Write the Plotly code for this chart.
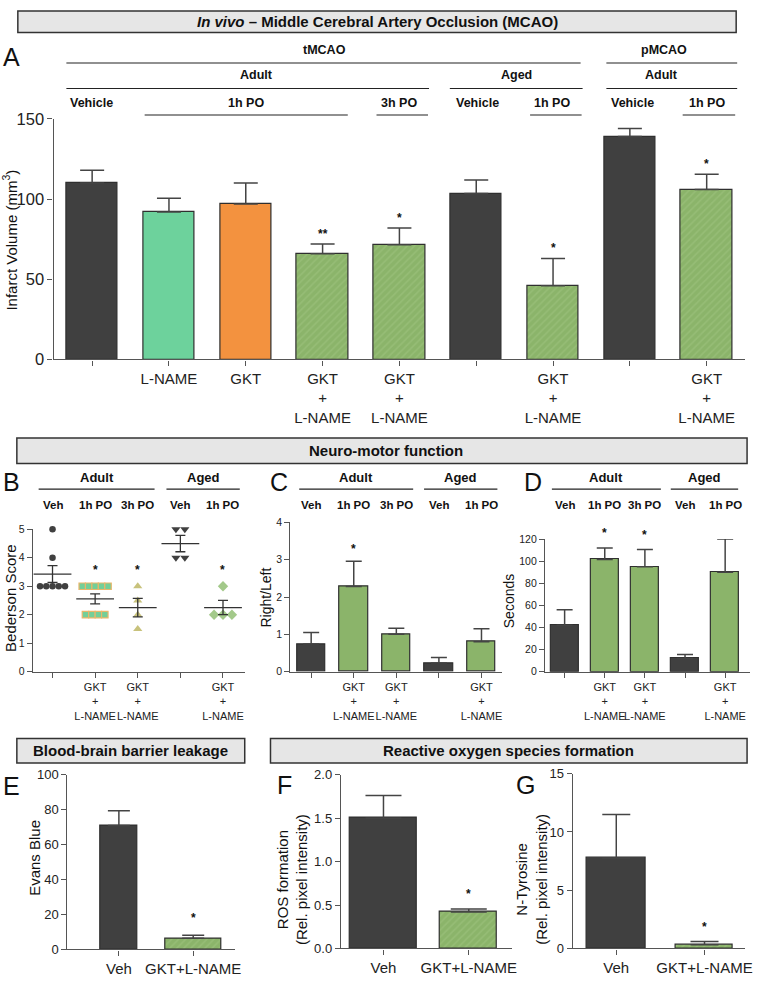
import numpy as np
import plotly.graph_objects as go
from collections import Counter

W, H = 762, 983
FONT = "Liberation Sans, Arial, Helvetica, sans-serif"

# ---------------- DATA ----------------
# Panel A: infarct volume (mm3)
a_labels = ["", "L-NAME", "GKT", "GKT<br>+<br>L-NAME", "GKT<br>+<br>L-NAME", "",
            "GKT<br>+<br>L-NAME", "", "GKT<br>+<br>L-NAME"]
a_values = [110, 92, 97, 66, 71.5, 103.5, 46, 139, 106]
a_errors = [8, 8.5, 13, 6, 10.5, 8.5, 17, 5, 9.5]
a_stars = ["", "", "", "**", "*", "", "*", "", "*"]
a_treat = ["veh", "lname", "gkt", "combo", "combo", "veh", "combo", "veh", "combo"]

# Panel B: Bederson score (individual animals)
bcd_labels = ["", "GKT<br>+<br>L-NAME", "GKT<br>+<br>L-NAME", "", "GKT<br>+<br>L-NAME"]
b_points = [
    [5, 4, 3, 3, 3, 3, 3],
    [3, 3, 3, 3, 3, 2, 2, 2, 2],
    [3, 2.5, 2, 1.5],
    [5, 5, 4, 4],
    [3, 2, 2, 2],
]
b_stars = ["", "*", "*", "", "*"]

# Panel C: Right/Left
c_values = [0.74, 2.28, 1.0, 0.23, 0.8]
c_errors = [0.31, 0.68, 0.16, 0.15, 0.35]
c_stars = ["", "*", "", "", ""]

# Panel D: Seconds
d_values = [42, 101.5, 95, 12, 90]
d_errors = [14, 10.5, 15.5, 3.5, 30]
d_stars = ["", "*", "*", "", ""]

# Panels E, F, G
efg_labels = ["Veh", "GKT+L-NAME"]
e_values = [71, 6.4]
e_errors = [8.4, 1.8]
f_values = [1.5, 0.42]
f_errors = [0.26, 0.035]
g_values = [7.75, 0.31]
g_errors = [3.75, 0.28]
efg_stars = ["", "*"]

# ---------------- STYLE ----------------
DARK = "#404040"
MINT = "#6dd29c"
ORANGE = "#f3923f"
GREEN = "#8bb46a"
HATCH = "#a2c582"
AX = "#555555"
EDGE = "#2f2f2f"
ERRC = "#444444"


def X(px):
    return px / W


def Y(py):
    return 1 - py / H


fig = go.Figure()
annotations = []
shapes = []


def ann(text, x, y, size, bold=False, xref="paper", yref="paper", **kw):
    if bold:
        text = "<b>" + text + "</b>"
    d = dict(text=text, x=x, y=y, xref=xref, yref=yref, showarrow=False,
             font=dict(size=size, family=FONT, color="#111"),
             xanchor=kw.pop("xanchor", "center"), yanchor=kw.pop("yanchor", "middle"))
    d.update(kw)
    annotations.append(d)


def hline(x0, x1, y, w=1.2):
    shapes.append(dict(type="line", xref="paper", yref="paper", x0=X(x0), x1=X(x1),
                       y0=Y(y), y1=Y(y), line=dict(color="#222", width=w)))


def box(x0, x1, y0, y1):
    shapes.append(dict(type="rect", xref="paper", yref="paper", x0=X(x0), x1=X(x1),
                       y0=Y(y1), y1=Y(y0), fillcolor="#e6e6e6",
                       line=dict(color="#333", width=1.5), layer="below"))


def xaxis(d0, d1, rng, labels, fs, anchor):
    return dict(domain=[X(d0), X(d1)], range=rng, anchor=anchor, showline=True,
                linecolor=AX, linewidth=1.2, ticks="outside", ticklen=5, tickwidth=1.2,
                tickcolor=AX, tickmode="array", tickvals=list(range(len(labels))),
                ticktext=labels, tickangle=0,
                tickfont=dict(size=fs, family=FONT, color="#222"),
                showgrid=False, zeroline=False, fixedrange=True)


def yaxis(top, bottom, rng, dtick, fs, anchor, fmt=None):
    d = dict(domain=[Y(bottom), Y(top)], range=rng, anchor=anchor, showline=True,
             linecolor=AX, linewidth=1.2, ticks="outside", ticklen=5, tickwidth=1.2,
             tickcolor=AX, dtick=dtick, tick0=0,
             tickfont=dict(size=fs, family=FONT, color="#222"),
             showgrid=False, zeroline=False, fixedrange=True)
    if fmt:
        d["tickformat"] = fmt
    return d


def bars(xa, ya, values, errors, colors, widths, hatched, capw, stars, star_shift, star_size=13):
    n = len(values)
    for i in range(n):
        pat = dict(shape="/", fgcolor=HATCH, bgcolor=colors[i], size=5, solidity=0.3) \
            if hatched[i] else dict(shape="")
        fig.add_trace(go.Bar(
            x=[i], y=[values[i]], width=[widths[i]], xaxis=xa, yaxis=ya,
            marker=dict(color=colors[i], line=dict(color=EDGE, width=1.2), pattern=pat),
            error_y=dict(type="data", array=[errors[i]], arrayminus=[0], symmetric=False,
                         color=ERRC, thickness=1.5, width=capw),
            hoverinfo="skip"))
        if stars[i]:
            ann(stars[i], i, values[i] + errors[i], star_size, bold=True,
                xref=xa, yref=ya, yanchor="middle", yshift=star_shift)


# ---------------- Panel A ----------------
col_map = {"veh": DARK, "lname": MINT, "gkt": ORANGE, "combo": GREEN}
a_cols = [col_map[t] for t in a_treat]
bars("x", "y", a_values, a_errors, a_cols, [0.67] * 9, [t == "combo" for t in a_treat],
     12, a_stars, 10, 12)

# ---------------- Panel B ----------------
b_marker = [
    dict(symbol="circle", size=6.5, color=DARK, line=dict(width=0)),
    dict(symbol="square", size=6.5, color="#73cf98", line=dict(color="#e9b66a", width=1.2)),
    dict(symbol="triangle-up", size=8, color="#c8c27c", line=dict(width=0)),
    dict(symbol="triangle-down", size=8, color=DARK, line=dict(width=0)),
    dict(symbol="diamond", size=8, color="#a3c98a", line=dict(width=0)),
]
b_step_px = [6.3, 6.5, 9, 9, 9]
for i, pts in enumerate(b_points):
    cnt = Counter(pts)
    seen = {}
    xs = []
    for v in pts:
        k = seen.get(v, 0)
        seen[v] = k + 1
        xs.append(i + (k - (cnt[v] - 1) / 2) * b_step_px[i] / 43.0)
    fig.add_trace(go.Scatter(x=xs, y=pts, mode="markers", marker=b_marker[i],
                             xaxis="x2", yaxis="y2", hoverinfo="skip", cliponaxis=False))
    arr = np.array(pts, dtype=float)
    mean = arr.mean()
    sem = arr.std(ddof=1) / np.sqrt(len(arr))
    fig.add_trace(go.Scatter(
        x=[i], y=[mean], mode="markers", xaxis="x2", yaxis="y2", hoverinfo="skip",
        cliponaxis=False,
        marker=dict(symbol="line-ew", size=27, line=dict(color="#333", width=1.3)),
        error_y=dict(type="data", array=[sem], color="#333", thickness=1.3, width=5)))
    if b_stars[i]:
        ann(b_stars[i], i, max(pts), 12, bold=True, xref="x2", yref="y2", yshift=16)

# ---------------- Panel C ----------------
bars("x3", "y3", c_values, c_errors, [DARK, GREEN, GREEN, DARK, GREEN], [0.67] * 5,
     [False] * 5, 8, c_stars, 12, 12)

# ---------------- Panel D ----------------
bars("x4", "y4", d_values, d_errors, [DARK, GREEN, GREEN, DARK, GREEN], [0.69] * 5,
     [False] * 5, 8, d_stars, 15, 12)

# ---------------- Panels E, F, G ----------------
bars("x5", "y5", e_values, e_errors, [DARK, GREEN], [0.5, 0.76], [False, True], 11,
     efg_stars, 17, 12)
bars("x6", "y6", f_values, f_errors, [DARK, GREEN], [0.79, 0.67], [False, True], 18,
     efg_stars, 15, 12)
bars("x7", "y7", g_values, g_errors, [DARK, GREEN], [0.67, 0.65], [False, True], 14,
     efg_stars, 15, 12)

# ---------------- Axes ----------------
layout_axes = dict(
    xaxis=xaxis(54, 752, [-0.503, 8.5], a_labels, 15, "y"),
    yaxis=yaxis(112, 357, [0, 150], 50, 16.5, "x"),
    xaxis2=xaxis(33, 247, [-0.465, 4.51], bcd_labels, 11, "y2"),
    yaxis2=yaxis(530, 675, [0, 5], 1, 10.5, "x2"),
    xaxis3=xaxis(293, 507, [-0.49, 4.49], bcd_labels, 11, "y3"),
    yaxis3=yaxis(523, 675, [0, 4], 1, 10.5, "x3"),
    xaxis4=xaxis(550, 757, [-0.49, 4.62], bcd_labels, 11, "y4"),
    yaxis4=yaxis(540, 675, [0, 120], 20, 10.5, "x4"),
    xaxis5=xaxis(68, 237, [-0.693, 1.56], efg_labels, 15, "y5"),
    yaxis5=yaxis(780, 958, [0, 100], 20, 13, "x5"),
    xaxis6=xaxis(344, 517, [-0.5, 1.51], efg_labels, 15, "y6"),
    yaxis6=yaxis(780, 957, [0, 2], 0.5, 13, "x6", ".1f"),
    xaxis7=xaxis(578, 752, [-0.494, 1.46], efg_labels, 15, "y7"),
    yaxis7=yaxis(779, 957, [0, 15], 5, 13, "x7"),
)

# ---------------- Section headers ----------------
box(18, 743, 2, 24)
ann("<i>In vivo</i> – Middle Cerebral Artery Occlusion (MCAO)", X(381), Y(13), 15, bold=True)
box(17, 754, 437, 463)
ann("Neuro-motor function", X(390), Y(450), 15, bold=True)
box(17, 247, 743, 768)
ann("Blood-brain barrier leakage", X(132), Y(755.5), 15, bold=True)
box(273, 754, 743, 768)
ann("Reactive oxygen species formation", X(513), Y(755.5), 15, bold=True)

# Panel letters
for letter, px, py in [("A", 12, 49), ("B", 12, 482), ("C", 282, 482), ("D", 538, 482),
                       ("E", 12, 792), ("F", 287, 790), ("G", 530, 790)]:
    ann(letter, X(px), Y(py), 25)

# Panel A experimental design header
ann("tMCAO", X(328), Y(42), 12.5, bold=True)
hline(67, 586, 55)
ann("pMCAO", X(670), Y(42), 12.5, bold=True)
hline(612, 744, 55)
ann("Adult", X(259), Y(67), 12.5, bold=True)
hline(67, 433, 81)
ann("Aged", X(521), Y(67), 12.5, bold=True)
hline(454, 588, 81)
ann("Adult", X(668), Y(67), 12.5, bold=True)
hline(612, 744, 81)
for txt, px in [("Vehicle", 92), ("1h PO", 248), ("3h PO", 403), ("Vehicle", 482),
                ("1h PO", 557), ("Vehicle", 638), ("1h PO", 714)]:
    ann(txt, X(px), Y(96), 12.5, bold=True)
hline(146, 351, 108)
hline(380, 432, 108)
hline(535, 587, 108)
hline(689, 742, 108)

# Panels B, C, D design headers
row_txt = ["Veh", "1h PO", "3h PO", "Veh", "1h PO"]
for xa, adult, aged in [("x2", (39, 156), (168, 242)), ("x3", (302, 417), (428, 502)),
                        ("x4", (557, 667), (677, 745))]:
    ann("Adult", X((adult[0] + adult[1]) / 2), Y(477), 13, bold=True)
    hline(adult[0], adult[1], 489)
    ann("Aged", X((aged[0] + aged[1]) / 2), Y(477), 13, bold=True)
    hline(aged[0], aged[1], 489)
    for i, t in enumerate(row_txt):
        ann(t, i, Y(505), 11.5, bold=True, xref=xa)

# Y-axis titles
ann("Infarct Volume (mm<sup>3</sup>)", X(10), Y(235), 15, textangle=-90)
ann("Bederson Score", X(10), Y(600), 15, textangle=-90)
ann("Right/Left", X(268), Y(600), 14, textangle=-90)
ann("Seconds", X(514), Y(603), 14, textangle=-90)
ann("Evans Blue", X(34), Y(865), 15, textangle=-90)
ann("ROS formation<br>(Rel. pixel intensity)", X(295), Y(887), 15, textangle=-90)
ann("N-Tyrosine<br>(Rel. pixel intensity)", X(537), Y(887), 15, textangle=-90)

fig.update_layout(
    width=W, height=H, margin=dict(l=0, r=0, t=0, b=0, pad=0),
    paper_bgcolor="white", plot_bgcolor="white", showlegend=False,
    font=dict(family=FONT, color="#222"),
    annotations=annotations, shapes=shapes, bargap=0, **layout_axes)

fig.write_html("out.html", config={"displayModeBar": False},
               post_script="document.body.style.margin='0';")
